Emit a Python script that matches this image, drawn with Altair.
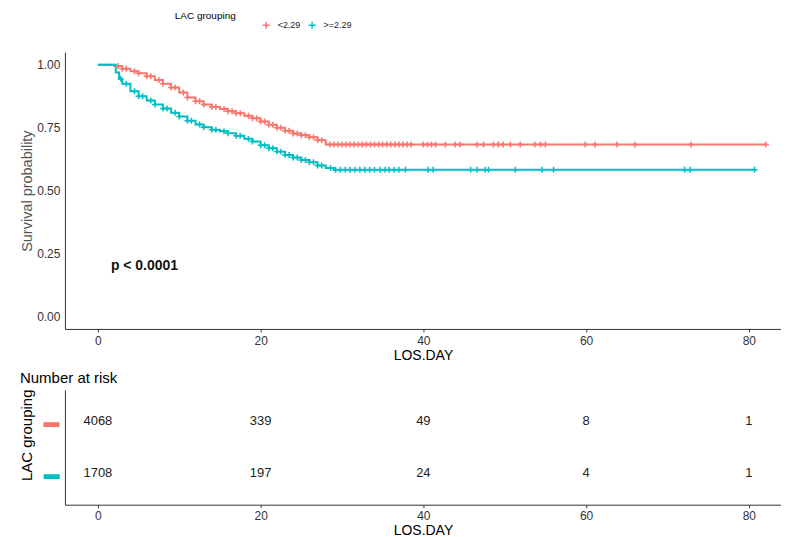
import altair as alt
import pandas as pd

# ---------------- data ----------------
groups = ["<2.29", ">=2.29"]
colors = ["#F8766D", "#00BFC4"]

# Kaplan-Meier step points (time in days, survival probability)
red_t = [0, 2.0, 3, 4, 5, 6, 7, 8, 9, 10, 11, 12, 13, 14, 15, 16, 17, 18, 19, 20,
         21, 22, 23, 24, 25, 26, 27, 28, 82.1]
red_s = [1.0, 0.995, 0.985, 0.975, 0.967, 0.955, 0.94, 0.925, 0.91, 0.89, 0.87, 0.855,
         0.842, 0.832, 0.824, 0.816, 0.808, 0.798, 0.788, 0.775, 0.762, 0.75, 0.738,
         0.727, 0.72, 0.712, 0.70, 0.683, 0.683]

teal_t = [0, 2.2, 2.6, 3, 4, 5, 6, 7, 8, 9, 10, 11, 12, 13, 14, 15, 16, 17, 18, 19, 20,
          21, 22, 23, 24, 25, 26, 27, 28, 29, 80.7]
teal_s = [1.0, 0.97, 0.945, 0.925, 0.895, 0.875, 0.858, 0.842, 0.826, 0.81, 0.795, 0.778,
          0.763, 0.752, 0.742, 0.736, 0.728, 0.718, 0.706, 0.695, 0.68, 0.668, 0.655,
          0.642, 0.632, 0.622, 0.613, 0.60, 0.59, 0.583, 0.583]

# censoring times (plus marks)
red_cens = [2.5, 3, 3.5, 4.5, 5, 6, 6.5, 7.5, 8, 9, 9.5, 10.5, 11, 12, 12.5, 13, 14, 14.5,
            15.5, 16, 16.5, 17, 17.5, 18.5, 19, 19.5, 20, 20.5, 21, 21.5, 22, 22.5, 23,
            23.5, 24, 24.5, 25, 25.5, 26, 26.5, 27, 27.5, 28.5, 29, 29.5, 30, 30.5, 31,
            31.5, 32, 32.5, 33, 33.5, 34, 34.5, 35, 35.5, 36, 36.5, 37, 37.5, 38, 38.5,
            40, 40.5, 41, 41.5, 42.7, 43.9, 44.5, 46.6, 47.4, 48.6, 49.2, 49.8, 50.7,
            51.9, 53.7, 54.4, 55, 59.9, 61.1, 63.8, 66, 72.9, 82.1]
teal_cens = [2.8, 3.5, 4.5, 5, 5.5, 6.5, 7, 8, 8.5, 9.5, 10, 11, 11.5, 12.5, 13, 14, 14.5,
             15.5, 16, 17, 17.5, 18.5, 19, 20, 20.5, 21, 21.5, 22, 22.5, 23, 23.5, 24,
             24.5, 25, 25.5, 26, 26.5, 27, 27.5, 28.6, 29.2, 29.8, 30.4, 31, 31.6, 32.2,
             32.8, 33.4, 34, 34.7, 35.3, 35.8, 36.4, 37, 37.8, 40.6, 41.2, 45.8, 46.6,
             47.6, 48, 51.3, 54.6, 56, 72.1, 72.8, 80.7]

# number at risk table
risk_times = [0, 20, 40, 60, 80]
risk_red = [4068, 339, 49, 8, 1]
risk_teal = [1708, 197, 24, 4, 1]

pval_text = "p < 0.0001"
pval_x = [1.6]
pval_y = [0.2]

# ---------------- tables ----------------
def step_value(ts, ss, c):
    v = ss[0]
    for t, s in zip(ts, ss):
        if t <= c:
            v = s
    return v

curve = pd.DataFrame(
    [{"t": t, "s": s, "g": groups[0]} for t, s in zip(red_t, red_s)]
    + [{"t": t, "s": s, "g": groups[1]} for t, s in zip(teal_t, teal_s)]
)
cens = pd.DataFrame(
    [{"t": c, "s": step_value(red_t, red_s, c), "g": groups[0]} for c in red_cens]
    + [{"t": c, "s": step_value(teal_t, teal_s, c), "g": groups[1]} for c in teal_cens]
)
risk = pd.DataFrame(
    [{"t": t, "n": n, "g": groups[0]} for t, n in zip(risk_times, risk_red)]
    + [{"t": t, "n": n, "g": groups[1]} for t, n in zip(risk_times, risk_teal)]
)
pv = pd.DataFrame({"t": pval_x, "s": pval_y, "label": [pval_text]})

FONT = "Liberation Sans"
PLUS = "M-1,0L1,0M0,-1L0,1"
W = 717

color_scale = alt.Scale(domain=groups, range=colors)
xscale = alt.Scale(domain=[-4.05, 83.95], nice=False, zero=False)

legend = alt.Legend(orient="none", legendX=110, legendY=-32,
                    direction="horizontal", title=["LAC grouping", ""],
                    titleOrient="left", titleFontSize=10, titleLineHeight=10,
                    titleFontWeight="normal", titleColor="#000000",
                    titleBaseline="bottom", titlePadding=25,
                    labelFontSize=9, labelColor="#222222",
                    symbolType=PLUS, symbolStrokeWidth=1.5,
                    symbolSize=50, columnPadding=4, labelOffset=7)


def x_axis(tpad, lpad):
    return alt.Axis(values=risk_times, title="LOS.DAY", grid=False, tickSize=3,
                    labelFontSize=12, labelColor="#333333", titleFontSize=14,
                    titleColor="#000000", titleFontWeight="normal", domainColor="#333333",
                    tickColor="#333333", labelPadding=lpad, titlePadding=tpad)

xenc = alt.X("t:Q", scale=xscale, axis=x_axis(2, 4))
yenc = alt.Y("s:Q", scale=alt.Scale(domain=[-0.05, 1.05], nice=False),
             axis=alt.Axis(values=[0, 0.25, 0.5, 0.75, 1.0], format=".2f",
                           title="Survival probability", ticks=False, grid=False,
                           labelFontSize=12, labelColor="#333333", labelPadding=5,
                           titleFontSize=14.5, titleColor="#555555",
                           titleFontWeight="normal",
                           titlePadding=2, domainColor="#333333"))

lines = alt.Chart(curve).mark_line(interpolate="step-after", strokeWidth=2).encode(
    x=xenc, y=yenc,
    color=alt.Color("g:N", scale=color_scale, legend=legend),
)
marks = alt.Chart(cens).mark_point(shape=PLUS, filled=False, size=36, strokeWidth=1.5,
                                   opacity=1).encode(
    x="t:Q", y="s:Q",
    color=alt.Color("g:N", scale=color_scale, legend=legend),
)
ptext = alt.Chart(pv).mark_text(align="left", baseline="middle", fontSize=14,
                                fontWeight="bold", font=FONT, color="#111111").encode(
    x="t:Q", y="s:Q", text="label:N")

top = alt.layer(lines, marks, ptext).properties(width=W, height=277)

risk_chart = alt.Chart(risk).mark_text(fontSize=13, font=FONT, color="#222222").encode(
    x=alt.X("t:Q", scale=xscale, axis=x_axis(2, 3)),
    y=alt.Y("g:N", sort=groups, scale=alt.Scale(type="point", padding=0.6),
            axis=alt.Axis(title="LAC grouping", ticks=False, labelExpr="'▬'",
                          labelFontSize=16, labelPadding=6,
                          labelColor={"condition": {"test": "datum.value == '<2.29'",
                                                    "value": colors[0]},
                                      "value": colors[1]},
                          titleFontSize=15, titleColor="#000000", titleFontWeight="normal",
                          titlePadding=8, titleY=45, domainColor="#333333")),
    text="n:Q",
).properties(width=W, height=115,
             title=alt.TitleParams("Number at risk", anchor="start", fontSize=15,
                                   fontWeight="normal", font=FONT, color="#000000",
                                   offset=3))

chart = alt.vconcat(top, risk_chart, spacing=8).properties(
    padding={"left": 11, "top": 12, "right": 0, "bottom": 0}
).configure(font=FONT).configure_view(stroke=None)

chart.save("out.html", embed_options={"renderer": "svg", "actions": False})
